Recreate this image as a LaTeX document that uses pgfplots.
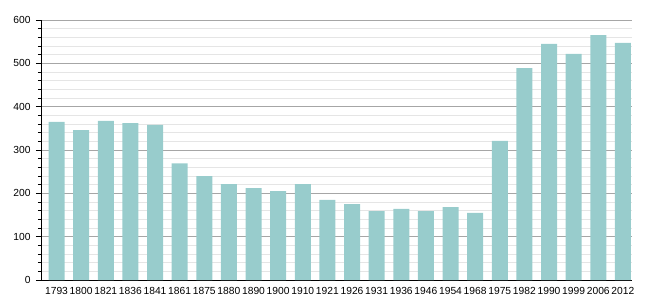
\documentclass[border=0pt]{standalone}
\usepackage{pgfplots}
\pgfplotsset{compat=1.18}
\usepackage{fontspec}
\setmainfont{Liberation Sans}
\usetikzlibrary{calc}
\definecolor{barc}{RGB}{152,204,204}
\begin{document}
\begin{tikzpicture}
\begin{axis}[
  name=ax,
  scale only axis,
  width=591bp, height=260bp,
  xmin=-0.63, xmax=23.37,
  ymin=0, ymax=600,
  axis x line*=bottom, axis y line*=left,
  axis line style={black, line width=0.8pt},
  xtick=data,
  xticklabels={1793,1800,1821,1836,1841,1861,1875,1880,1890,1900,1910,1921,1926,1931,1936,1946,1954,1968,1975,1982,1990,1999,2006,2012},
  xtick style={draw=none},
  ytick={0,100,...,600},
  minor tick num=4,
  tick align=outside,
  major tick length=5bp,
  minor tick length=3bp,
  ytick style={black, line width=0.6pt},
  ymajorgrids, yminorgrids,
  major grid style={gray!70, line width=0.5pt},
  minor grid style={gray!20, line width=0.5pt},
  tick label style={font=\fontsize{10.3}{12}\selectfont},
  /pgf/number format/assume math mode=true,
  xticklabel style={inner sep=1pt, yshift=-1pt},
  yticklabel style={xshift=-2pt},
  ybar, bar width=16bp,
]
\addplot[fill=barc, draw=none] coordinates {
(0,365) (1,346) (2,367) (3,362) (4,358) (5,269) (6,240) (7,221) (8,212) (9,205)
(10,221) (11,185) (12,175) (13,159) (14,164) (15,159) (16,168) (17,155) (18,321)
(19,489) (20,545) (21,522) (22,565) (23,547)
};
\end{axis}
\pgfresetboundingbox
\path ($(ax.south west)+(-41bp,-20bp)$) rectangle ($(ax.north east)+(18bp,20bp)$);
\end{tikzpicture}
\end{document}
